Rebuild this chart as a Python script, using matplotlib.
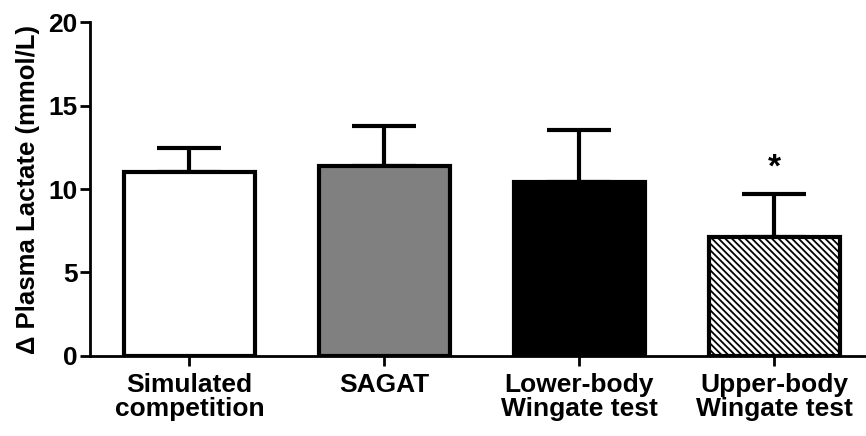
#!/usr/bin/env python3
"""Bar chart of delta plasma lactate per test condition."""

import matplotlib
matplotlib.use("Agg")
import matplotlib.pyplot as plt
import numpy as np

categories = ["Simulated\ncompetition", "SAGAT", "Lower-body\nWingate test", "Upper-body\nWingate test"]
means = [11.0, 11.4, 10.4, 7.1]
sds = [1.45, 2.35, 3.15, 2.6]
significant = [False, False, False, True]

plt.rcParams["font.family"] = ["Liberation Sans", "DejaVu Sans"]
plt.rcParams["font.weight"] = "bold"
plt.rcParams["hatch.linewidth"] = 1.3

fig = plt.figure(figsize=(8.66, 4.36), dpi=100)
ax = fig.add_axes([0.104, 0.1835, 0.896, 0.766])

x = np.arange(len(categories))
faces = ["white", "#808080", "black", "white"]
hatches = [None, None, None, "\\" * 5]
for i in range(len(categories)):
    ax.bar(x[i], means[i], width=0.67, color=faces[i], edgecolor="black",
           linewidth=3, hatch=hatches[i], zorder=2)
ax.errorbar(x, means, yerr=[np.zeros(len(sds)), sds], fmt="none", ecolor="black",
            elinewidth=3, capsize=23, capthick=3, zorder=1)
for i in range(len(categories)):
    if significant[i]:
        ax.text(x[i], means[i] + sds[i] + 0.6, "*", ha="center", va="bottom",
                fontsize=24, fontweight="bold")

ax.set_xlim(-0.51, 3.47)
ax.set_ylim(0, 20)
ax.set_yticks([0, 5, 10, 15, 20])
ax.set_xticks(x)
ax.set_xticklabels(categories, fontsize=19, fontweight="bold", linespacing=1.0)
ax.tick_params(axis="y", labelsize=19, width=2, length=7, pad=2)
ax.tick_params(axis="x", width=2, length=7, pad=5)
ax.set_ylabel("\u0394 Plasma Lactate (mmol/L)", fontsize=18.5, fontweight="bold", labelpad=6)

for side in ("top", "right"):
    ax.spines[side].set_visible(False)
for side in ("left", "bottom"):
    ax.spines[side].set_linewidth(2)

fig.savefig("out.png", dpi=100)
